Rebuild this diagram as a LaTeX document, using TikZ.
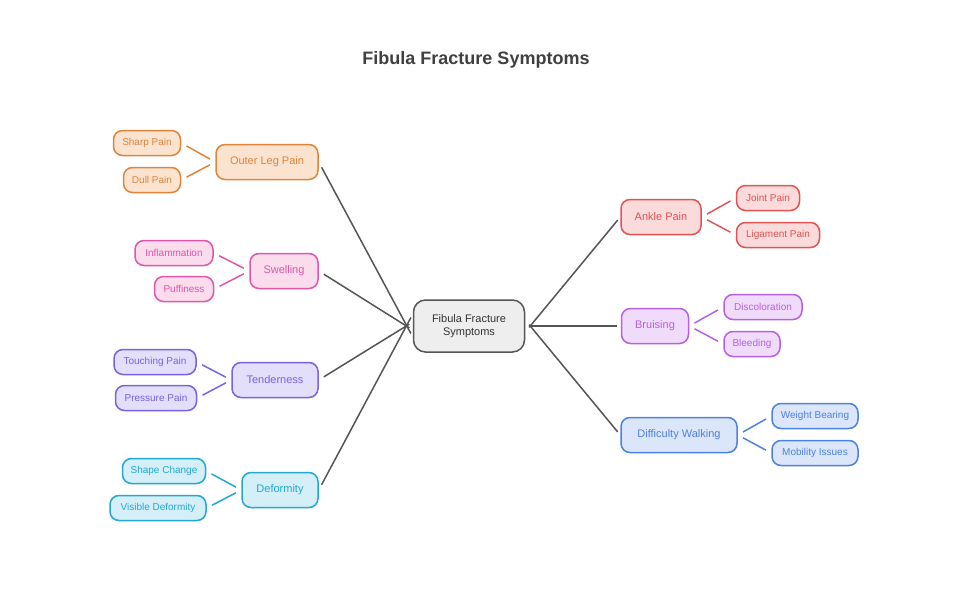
\documentclass[tikz,border=0pt]{standalone}
\usepackage{fontspec}
\setmainfont{Liberation Sans}
\definecolor{OrangeLine}{HTML}{E0843C}\definecolor{OrangeFill}{HTML}{FBE3CF}
\definecolor{PinkLine}{HTML}{E056AA}\definecolor{PinkFill}{HTML}{FADCEC}
\definecolor{PurpleLine}{HTML}{7A62E0}\definecolor{PurpleFill}{HTML}{E3DEFA}
\definecolor{CyanLine}{HTML}{22A8D2}\definecolor{CyanFill}{HTML}{D4EFF8}
\definecolor{RedLine}{HTML}{E05454}\definecolor{RedFill}{HTML}{FADADA}
\definecolor{VioletLine}{HTML}{B660E2}\definecolor{VioletFill}{HTML}{F0DCFA}
\definecolor{BlueLine}{HTML}{4C82E2}\definecolor{BlueFill}{HTML}{DCE6FA}
\definecolor{HubLine}{HTML}{555555}\definecolor{HubFill}{HTML}{EEEEEE}
\tikzset{
    box/.style={draw=#1Line, fill=#1Fill, text=#1Line, rounded corners=9pt,
        line width=1.5pt, align=center, inner sep=0pt},
    branch/.style={box=#1, minimum height=35pt, font=\fontsize{11}{13}\selectfont},
    leaf/.style={box=#1, minimum height=25pt, font=\fontsize{10}{12}\selectfont},
    hub/.style={draw=HubLine, fill=HubFill, text=black!80, rounded corners=12pt,
        line width=1.5pt, align=center, minimum width=111pt, minimum height=52pt,
        font=\fontsize{11}{13}\selectfont},
    link/.style={draw=#1Line, line width=1.5pt, shorten <=6pt, shorten >=6pt},
    spoke/.style={draw=HubLine, line width=1.5pt, shorten <=6pt, shorten >=4pt}
}
\begin{document}
\begin{tikzpicture}[x=1pt, y=-1pt]
\useasboundingbox (0,0) rectangle (953,605);

\node[font=\bfseries\fontsize{18}{20}\selectfont, text=black!75] (title) at (476,60) {Fibula Fracture Symptoms};

\node[hub] (ctr) at (469,326) {Fibula Fracture\\Symptoms};

% left side
\node[branch=Orange, minimum width=102pt] (olp) at (267,162) {Outer Leg Pain};
\node[leaf=Orange, minimum width=67pt] (sharp) at (147,143) {Sharp Pain};
\node[leaf=Orange, minimum width=57pt] (dull) at (152,180) {Dull Pain};

\node[branch=Pink, minimum width=68pt] (swel) at (284,271) {Swelling};
\node[leaf=Pink, minimum width=78pt] (infl) at (174,253) {Inflammation};
\node[leaf=Pink, minimum width=59pt] (puff) at (184,289) {Puffiness};

\node[branch=Purple, minimum width=86pt] (tend) at (275,380) {Tenderness};
\node[leaf=Purple, minimum width=82pt] (touch) at (155,362) {Touching Pain};
\node[leaf=Purple, minimum width=81pt] (press) at (156,398) {Pressure Pain};

\node[branch=Cyan, minimum width=76pt] (defo) at (280,490) {Deformity};
\node[leaf=Cyan, minimum width=83pt] (shape) at (164,471) {Shape Change};
\node[leaf=Cyan, minimum width=96pt] (visi) at (158,508) {Visible Deformity};

% right side
\node[branch=Red, minimum width=80pt] (ankle) at (661,217) {Ankle Pain};
\node[leaf=Red, minimum width=63pt] (joint) at (768,198) {Joint Pain};
\node[leaf=Red, minimum width=83pt] (liga) at (778,235) {Ligament Pain};

\node[branch=Violet, minimum width=67pt] (brui) at (655,326) {Bruising};
\node[leaf=Violet, minimum width=78pt] (disc) at (763,307) {Discoloration};
\node[leaf=Violet, minimum width=56pt] (bleed) at (752,344) {Bleeding};

\node[branch=Blue, minimum width=116pt] (walk) at (679,435) {Difficulty Walking};
\node[leaf=Blue, minimum width=86pt] (weight) at (815,416) {Weight Bearing};
\node[leaf=Blue, minimum width=86pt] (mobi) at (815,453) {Mobility Issues};

% spokes
\draw[spoke] (olp.east) -- ([yshift=-11pt]ctr.west);
\draw[spoke] (swel.east) -- ([yshift=-4pt]ctr.west);
\draw[spoke] (tend.east) -- ([yshift=4pt]ctr.west);
\draw[spoke] (defo.east) -- ([yshift=12pt]ctr.west);
\draw[spoke] ([yshift=-6pt]ctr.east) -- (ankle.west);
\draw[spoke] (ctr.east) -- (brui.west);
\draw[spoke] ([yshift=6pt]ctr.east) -- (walk.west);

% leaves
\draw[link=Orange] (sharp.east) -- (olp.west);
\draw[link=Orange] (dull.east) -- (olp.west);
\draw[link=Pink] (infl.east) -- (swel.west);
\draw[link=Pink] (puff.east) -- (swel.west);
\draw[link=Purple] (touch.east) -- (tend.west);
\draw[link=Purple] (press.east) -- (tend.west);
\draw[link=Cyan] (shape.east) -- (defo.west);
\draw[link=Cyan] (visi.east) -- (defo.west);
\draw[link=Red] (ankle.east) -- (joint.west);
\draw[link=Red] (ankle.east) -- (liga.west);
\draw[link=Violet] (brui.east) -- (disc.west);
\draw[link=Violet] (brui.east) -- (bleed.west);
\draw[link=Blue] (walk.east) -- (weight.west);
\draw[link=Blue] (walk.east) -- (mobi.west);
\end{tikzpicture}
\end{document}
